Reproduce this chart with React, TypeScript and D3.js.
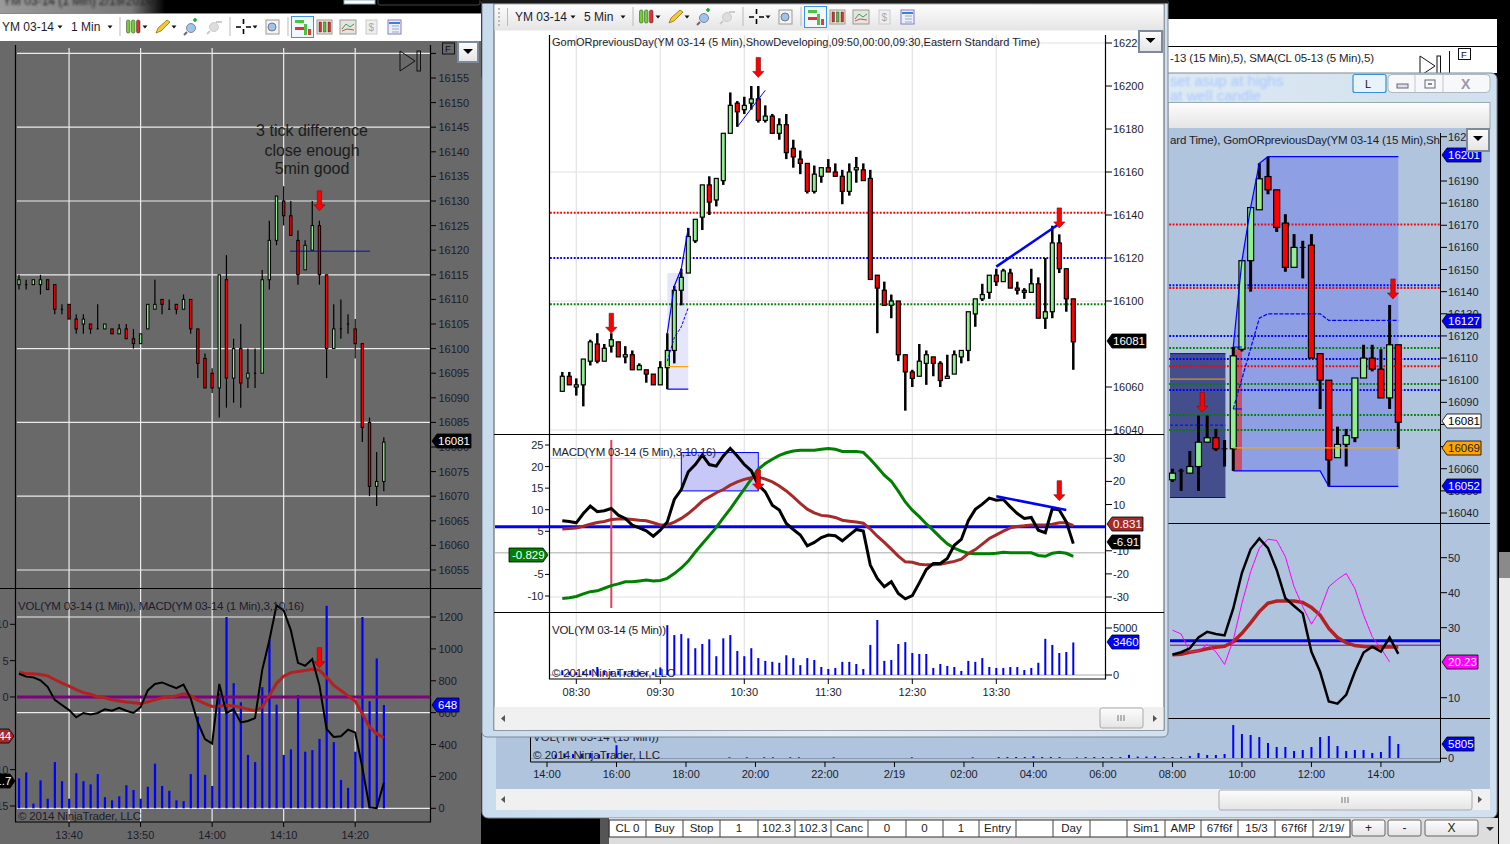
import React from 'react';
import * as d3 from 'd3';

type Bar = [number, number, number, number]; // open, high, low, close

// ---- 1 min chart (left window), 13:33 -> 14:24
const bars1m: Bar[] = [
  [16113,16115,16112,16114],[16113,16114,16112,16113],[16113,16114,16113,16114],[16113,16115,16111,16114],
  [16114,16114,16112,16112],[16113,16113,16107,16108],[16108,16109,16107,16108],[16109,16109,16106,16106],
  [16106,16107,16103,16104],[16105,16107,16103,16106],[16105,16105,16103,16104],[16104,16109,16104,16104],
  [16104,16105,16104,16105],[16104,16104,16103,16103],[16103,16105,16103,16104],[16104,16105,16102,16102],
  [16102,16104,16100,16101],[16101,16103,16101,16103],[16104,16109,16104,16109],[16108,16114,16108,16109],
  [16110,16110,16107,16109],[16108,16110,16108,16108],[16109,16109,16107,16108],[16108,16111,16108,16110],
  [16110,16110,16103,16104],[16104,16104,16094,16097],[16098,16099,16092,16092],[16095,16096,16091,16092],
  [16092,16115,16086,16115],[16114,16119,16088,16094],[16094,16102,16089,16100],[16100,16105,16088,16093],
  [16094,16100,16092,16095],[16095,16100,16092,16095],[16095,16116,16095,16114],[16114,16126,16112,16122],
  [16122,16131,16121,16131],[16130,16133,16125,16127],[16127,16130,16123,16123],[16122,16124,16113,16115],
  [16116,16122,16116,16121],[16120,16130,16120,16125],[16125,16126,16113,16115],[16115,16115,16094,16100],
  [16100,16109,16100,16104],[16104,16110,16102,16104],[16105,16107,16103,16105],[16104,16106,16098,16101],
  [16101,16101,16081,16084],[16085,16086,16070,16072],[16072,16079,16068,16073],[16073,16082,16071,16081],
];
const vol1m = [188,225,30,175,60,290,170,60,220,170,150,215,70,50,75,145,115,60,135,280,140,110,50,45,215,575,210,140,720,1200,785,665,335,290,760,1055,650,335,370,710,355,365,435,1270,415,178,128,355,1200,672,940,648];
const macd1m = [3.2,2.8,2.7,2.3,1.4,-.4,-1.1,-1.8,-2.8,-2.2,-2.4,-2.2,-1.7,-1.9,-1.5,-1.9,-2.2,-1.4,.9,1.8,2,1.6,1.2,1.7,-.2,-3.5,-5.8,-6.4,1.8,-2.2,-1.7,-3.5,-3.3,-2.9,3.7,7.8,12.6,11.9,9.2,4.7,4.3,5.2,1.6,-4.4,-5.5,-5.4,-4.5,-4.9,-9.7,-15.2,-15.3,-11.8];
const signal1m = [3.4,3.2,3.2,3.1,2.9,2.4,1.9,1.5,1,.6,.4,0,-.1,-.4,-.55,-.7,-.8,-.9,-.65,-.4,-.1,0,.15,.45,.15,-.45,-.9,-1.3,-1.25,-1.15,-1.25,-1.4,-1.7,-1.9,-1.4,.2,1.85,2.85,3.35,3.5,3.65,3.8,3.7,2.7,1.6,.9,.15,-.55,-2.3,-4.15,-5.05,-5.6];
const priceTicks1m = [16155,16150,16145,16140,16135,16130,16125,16120,16115,16110,16105,16100,16095,16090,16085,16080,16075,16070,16065,16060,16055];
const priceGrid1m = [16160,16145,16130,16115,16100,16085,16070,16055];
const volTicks1m = [0,200,400,600,800,1000,1200];
const macdTicks1m = [10,5,0,-10,-15];
const timeTicks1m: [number, string][] = [[7,'13:40'],[17,'13:50'],[27,'14:00'],[37,'14:10'],[47,'14:20']];

// ---- 5 min chart (middle window), 08:20 -> 14:25
const bars5m: Bar[] = [
  [16058,16067,16058,16065],[16065,16067,16061,16061],[16060,16064,16056,16061],[16061,16073,16051,16073],
  [16072,16082,16070,16081],[16080,16085,16071,16072],[16072,16080,16072,16078],[16079,16085,16076,16082],
  [16081,16081,16074,16074],[16074,16079,16071,16075],[16075,16077,16068,16068],[16068,16071,16068,16070],
  [16068,16068,16062,16066],[16066,16066,16061,16061],[16061,16072,16061,16069],[16069,16085,16059,16077],
  [16077,16107,16071,16105],[16105,16115,16098,16111],[16113,16134,16113,16130],[16128,16138,16127,16138],
  [16139,16154,16133,16154],[16154,16158,16140,16146],[16147,16157,16144,16157],[16156,16178,16154,16178],
  [16178,16197,16178,16191],[16192,16193,16181,16188],[16189,16195,16187,16191],[16192,16200,16189,16194],
  [16194,16200,16183,16184],[16184,16191,16183,16186],[16186,16187,16178,16178],[16178,16185,16175,16182],
  [16182,16187,16166,16169],[16171,16175,16162,16167],[16166,16170,16159,16164],[16164,16164,16150,16151],
  [16151,16163,16150,16159],[16158,16162,16155,16162],[16162,16166,16160,16160],[16160,16164,16158,16158],
  [16158,16161,16145,16151],[16151,16164,16149,16160],[16161,16167,16155,16162],[16161,16164,16156,16156],
  [16157,16161,16110,16110],[16112,16112,16085,16106],[16105,16109,16098,16098],[16098,16103,16092,16100],
  [16100,16100,16072,16075],[16075,16075,16049,16067],[16067,16068,16060,16064],[16065,16080,16065,16072],
  [16071,16077,16061,16075],[16074,16074,16065,16071],[16071,16072,16060,16063],[16064,16075,16064,16065],
  [16066,16077,16066,16075],[16074,16077,16071,16077],[16077,16095,16072,16095],[16094,16101,16088,16101],
  [16101,16108,16100,16103],[16104,16112,16101,16112],[16112,16115,16107,16109],[16109,16115,16109,16114],
  [16113,16115,16106,16106],[16106,16109,16103,16105],[16105,16106,16101,16104],[16104,16115,16104,16108],
  [16108,16111,16092,16092],[16092,16120,16087,16095],[16095,16135,16092,16127],[16127,16131,16113,16115],
  [16115,16115,16095,16101],[16101,16101,16068,16081],
];
const macd5m = [3,2.7,2.1,6.1,9.3,6.9,7.3,8.3,5.4,4,1.1,-.1,-1.4,-3.7,-1.1,2.5,12.2,16.5,24.2,27.3,31.4,27.3,26.6,31,34.3,31,27.3,24.6,18.4,15.5,9.7,7.6,1.8,-.8,-3.2,-7.9,-6.4,-4.3,-3.2,-3.5,-5.7,-3.2,-.8,-1.5,-16.2,-22,-25.6,-23.4,-28.5,-30.8,-29.4,-23.9,-18.1,-15.5,-15.5,-13.3,-7.6,-5.1,3,7.9,10.2,12.8,11.9,12.2,9,6.1,4,4.4,-1.1,-2.2,8.3,7.6,2.5,-6.91];
const signal5m = [-.6,-.4,-.2,.6,1.5,2.2,2.7,3.5,3.7,3.8,3.5,3.2,3,2.1,1.2,1.2,2.4,4,6.1,8.7,11.5,13.3,15.1,16.5,18.4,19.8,20.9,21.6,21.9,21,19.8,18,15.9,13.3,10.5,8,6.4,5.3,5,4.4,3.2,2.8,2.4,1.9,-.6,-3.7,-6.4,-9.3,-12.3,-14.8,-15,-15.8,-16.1,-16.1,-15.8,-15.2,-14.6,-13.6,-11.2,-9.5,-7.1,-4.7,-3.1,-1.5,-.1,.5,.8,1.2,1.2,1.2,1.5,2.1,2.1,.831];
const diff5m = [-10.6,-10.4,-10.1,-9.5,-9,-8.8,-8.2,-7.6,-7.2,-6.7,-6.7,-6.5,-6.3,-6.5,-6.4,-5.9,-4.8,-3.5,-1.9,.2,2.1,4,5.9,8.1,10.2,12.5,14.8,17.1,19.4,20.7,21.7,22.6,23.2,23.6,23.8,23.8,23.8,24,24.2,24,23.5,23.5,23.5,23.3,21.7,19.9,18,16.6,14.3,11.8,9.9,8.4,6.7,5.2,3.6,2.1,1.1,.4,-.1,-.2,-.2,-.2,-.1,.15,0,0,0,0,-.6,-.8,-.1,.15,-.1,-.829];
const vol5m = [500,350,300,400,500,850,500,400,450,350,500,350,250,300,800,5300,4250,4350,3900,2850,3300,3800,2000,3900,4250,2550,2000,2850,1800,1500,1400,1300,2100,1800,1050,1800,1600,850,640,750,1400,1400,1170,640,3200,5850,1500,1600,3300,3500,2340,2240,2240,750,1170,960,850,430,1500,1400,1800,850,750,750,850,850,530,750,1300,3850,3200,2340,2450,3460];
const priceTicks5m = [16220,16200,16180,16160,16140,16120,16100,16060,16040];
const priceGrid5m = [16220,16160,16100,16040];
const leftTicks5m = [25,20,15,10,5,-5,-10];
const rightTicks5m = [30,20,10,-10,-20,-30];
const hourTicks5m: [number, string][] = [[2,'08:30'],[14,'09:30'],[26,'10:30'],[38,'11:30'],[50,'12:30'],[62,'13:30']];
const orHigh5m: [number, number][] = [[15,16085],[16,16107],[17,16115],[18,16134]];
const orMid5m: [number, number][] = [[15,16072],[16,16083],[17,16088],[18,16097]];
const levels5m: [number, string][] = [[16141,'#ff0000'],[16120,'#0000ff'],[16098.5,'#008000']];
const arrows5m: [number, number][] = [[7,16085],[28,16204],[71,16134]];

// ---- 15 min chart (window behind), index counted in bars from 14:00 the day before
const firstBar15 = 72;
const bars15m: Bar[] = [
  [16055,16060,16054,16058],[16059,16060,16050,16059],[16058,16068,16058,16061],[16061,16084,16050,16072],
  [16072,16084,16072,16074],[16074,16078,16068,16069],[16069,16073,16061,16069],[16069,16115,16059,16111],
  [16114,16154,16113,16154],[16154,16178,16140,16178],[16177,16198,16177,16191],[16192,16201,16184,16186],
  [16186,16186,16167,16169],[16171,16175,16149,16151],[16151,16166,16151,16160],[16160,16163,16146,16160],
  [16161,16166,16110,16110],[16112,16112,16087,16100],[16100,16100,16052,16064],[16065,16079,16065,16071],
  [16071,16078,16061,16075],[16074,16101,16072,16101],[16101,16116,16101,16110],[16110,16116,16104,16105],
  [16105,16114,16092,16092],[16092,16134,16087,16116],[16116,16116,16069,16081],
];
const macd15m = [22.3,23,24.1,27.2,28.8,28.2,27.8,35.5,45.7,52.4,55.5,52.7,46.5,38.4,36.2,34.1,23.1,17.4,8.9,8.3,10.8,17.4,22.9,24.6,23.2,27.2,22.5];
const signal15m = [22.3,22.4,23,23.4,24,24.4,24.7,26,28.4,31.4,34.6,37,37.6,37.6,37.6,37.2,35.8,33.6,29.8,27.2,25.7,24.9,24.6,24.5,24.5,24.5,24.5];
const sma15m = [29.3,28.2,23.1,23.3,25.2,23.1,19.5,26.5,37,46,52.7,55.3,54.9,50.3,41.7,36,31,35,41.7,43.8,45.5,41.2,33.6,27.4,24.1,20.23];
const vol15m = [540,540,950,2160,1350,1350,1750,13500,9850,9450,8640,6210,4590,4590,2970,3375,4590,8640,9050,5000,2970,3375,3375,2160,2570,9050,5805];
const volEarly15m: [number, number][] = [[1,1500],[2,2000],[3,1700],[4,1800],[5,2200],[6,1600],[7,2000],[8,5300],[9,1400],[21,400],[23,400],[25,400],[26,400],[28,400],[29,400],[33,400],[42,400],[49,400],[52,500],[53,500],[54,500],[55,500],[56,800],[57,500],[58,500],[59,500],[61,400],[62,500],[63,500],[64,500],[65,500],[66,500],[67,1400],[68,700],[69,700],[70,800],[71,500]];
const levels15m: [number, string][] = [[16170.4,'#ff0000'],[16142.9,'#0000ff'],[16141.7,'#ff0000'],[16120,'#0000ff'],[16114.5,'#008000'],[16109.6,'#0000ff'],[16106.3,'#ff0000'],[16098.3,'#008000'],[16095.6,'#0000ff'],[16084.3,'#008000'],[16077.5,'#008000']];
const orTop15m: [number, number][] = [[79,16115],[80,16154],[81,16178],[82,16198],[83,16201],[98,16201]];
const orBottom15m: [number, number][] = [[79,16059],[89,16059],[90,16052],[98,16052]];
const orBandTop15m = [16115,16154,16178,16198,16201,16201,16201,16201,16201,16201,16201,16201,16201,16201,16201,16201,16201,16201,16201,16201];
const orBandLow15m = [16059,16059,16059,16059,16059,16059,16059,16059,16059,16059,16059,16052,16052,16052,16052,16052,16052,16052,16052,16052];
const orMid15m: [number, number][] = [[79,16087],[82,16128],[83,16130],[89,16130],[90,16127],[98,16127]];
const priceTicks15m = [16210,16190,16180,16170,16160,16150,16140,16130,16120,16110,16100,16090,16080,16070,16060,16050,16040];
const macdTicks15m = [50,40,30,10];
const timeTicks15m: [number, string][] = [[0,'14:00'],[8,'16:00'],[16,'18:00'],[24,'20:00'],[32,'22:00'],[40,'2/19'],[48,'02:00'],[56,'04:00'],[64,'06:00'],[72,'08:00'],[80,'10:00'],[88,'12:00'],[96,'14:00']];

// ---- order line at the bottom of the screen
const orderCells = ['CL 0','Buy','Stop','1','102.3','102.3','Canc','0','0','1','Entry','','Day','','Sim1','AMP','67f6f','15/3','67f6f','2/19/'];
const orderEdges = [609,646,683,720,758,795,831,868,906,943,979,1016,1053,1090,1127,1165,1201,1238,1275,1313,1350];

const FONT = '"Liberation Sans", Arial, sans-serif';
const UP = '#90ee90';
const DOWN = '#ff0000';

// scales
const x1 = d3.scaleLinear().domain([0, 51]).range([19, 383.8]);
const y1 = d3.scaleLinear().domain([16155, 16055]).range([78, 570]);
const v1 = d3.scaleLinear().domain([0, 1200]).range([808.3, 617]);
const m1 = d3.scaleLinear().domain([10, -15]).range([624.3, 806]);

const x5 = d3.scaleLinear().domain([0, 73]).range([562.3, 1073.3]);
const y5 = d3.scaleLinear().domain([16200, 16040]).range([86, 430]);
const mL5 = d3.scaleLinear().domain([25, -10]).range([445, 596]);
const mR5 = d3.scaleLinear().domain([30, -30]).range([458.3, 597]);
const v5 = d3.scaleLinear().domain([0, 5000]).range([675, 628]);

const x15 = d3.scaleLinear().domain([0, 98]).range([547, 1398.3]);
const y15 = d3.scaleLinear().domain([16190, 16040]).range([181, 513]);
const m15 = d3.scaleLinear().domain([50, 10]).range([557.7, 697.7]);
const v15 = d3.scaleLinear().domain([0, 5805]).range([758.3, 744]);

const seriesPath = (vals: number[], x: (i: number) => number, y: (v: number) => number) =>
  d3.line<number>().x((_, i) => x(i)).y(d => y(d))(vals) || '';
const pairPath = (pts: [number, number][], x: (i: number) => number, y: (v: number) => number) =>
  d3.line<[number, number]>().x(d => x(d[0])).y(d => y(d[1]))(pts) || '';

const T: React.FC<any> = ({ children, size = 11, fill = '#1c1c2c', ...rest }) => (
  <text fontFamily={FONT} fontSize={size} fill={fill} {...rest}>{children}</text>
);

const Candles: React.FC<{ bars: Bar[]; x: (i: number) => number; y: (v: number) => number; body: number; wick: number; sw?: number }> = ({ bars, x, y, body, wick, sw = 1 }) => (
  <g>
    {bars.map((b, i) => {
      const [o, h, l, c] = b;
      const top = y(Math.max(o, c));
      const bot = y(Math.min(o, c));
      return (
        <g key={i}>
          <line x1={x(i)} x2={x(i)} y1={y(h)} y2={y(l)} stroke="#000" strokeWidth={wick} />
          {o === c
            ? <line x1={x(i) - body / 2} x2={x(i) + body / 2} y1={top} y2={top} stroke="#000" strokeWidth={1} />
            : <rect x={x(i) - body / 2} y={top} width={body} height={bot - top} fill={c > o ? UP : DOWN} stroke="#000" strokeWidth={sw} />}
        </g>
      );
    })}
  </g>
);

const Arrow: React.FC<{ x: number; tip: number; len?: number }> = ({ x, tip, len = 20 }) => (
  <path d={`M${x - 2.2},${tip - len}h4.4v${len - 6}h3.4l-5.6,6l-5.6,-6h3.4z`} fill="#ff0000" stroke="#701010" strokeWidth={0.6} />
);

// price marker tag, points to the axis
const Tag: React.FC<{ x: number; y: number; w: number; text: string; fill: string; color?: string; flip?: boolean }> = ({ x, y, w, text, fill, color = '#fff', flip }) => {
  const h = 7;
  const d = flip
    ? `M${x},${y}l-5,${-h}h${-w + 5}v${h * 2}h${w - 5}z`
    : `M${x},${y}l5,${-h}h${w - 5}v${h * 2}h${-w + 5}z`;
  return (
    <g>
      <path d={d} fill={fill} stroke="#000" strokeWidth={0.8} />
      <T x={flip ? x - w + 3 : x + 6} y={y + 4} fill={color} size={11.5}>{text}</T>
    </g>
  );
};

const DropButton: React.FC<{ x: number; y: number; w?: number; h?: number }> = ({ x, y, w = 22, h = 21 }) => (
  <g>
    <rect x={x} y={y} width={w} height={h} fill="url(#btn)" stroke="#7d8a99" strokeWidth={2} />
    <path d={`M${x + w / 2 - 5},${y + 7}h10l-5,5z`} fill="#000" />
  </g>
);

const ReplayIcon: React.FC<{ x: number; y: number }> = ({ x, y }) => (
  <g fill="none" stroke="#111" strokeWidth={1}>
    <path d={`M${x},${y}l15,10l-15,10z`} />
    <rect x={x + 17} y={y} width={3.5} height={20} />
  </g>
);

// the NinjaTrader chart toolbar, drawn at the left window's position and shifted for the others
const Toolbar: React.FC<{ dx: number; dy: number; label: string; period: string }> = ({ dx, dy, label, period }) => {
  const caret = (x: number) => <path d={`M${x - 2.5},25.5h5l-2.5,3z`} fill="#111" />;
  const sep = (x: number) => <line x1={x} x2={x} y1={17} y2={36} stroke="#bbb" />;
  return (
    <g transform={`translate(${dx},${dy})`}>
      <T x={2} y={31} size={12}>{label}</T>{caret(60)}
      <T x={71} y={31} size={12}>{period}</T>{caret(110)}
      {sep(120)}
      {[128, 133, 138].map((x, i) => (
        <rect key={x} x={x - 1.5} y={20} width={3.5} height={13} rx={1.5} fill={i === 2 ? '#e03030' : '#70d030'} stroke="#333" strokeWidth={0.5} />
      ))}
      {caret(145)}
      <path d="M156,33l2,-5l9,-8l3,2l-9,9z" fill="#f5c830" stroke="#806010" strokeWidth={0.7} />{caret(174)}
      <circle cx={191} cy={28} r={4.5} fill="#9fc4e8" stroke="#7a8a9a" /><line x1={187} x2={184} y1={32} y2={35} stroke="#667" strokeWidth={2} />
      <path d="M197,20h-4m2,-2v4" stroke="#10b020" strokeWidth={1.6} />
      <circle cx={214} cy={27} r={4.5} fill="#ddd" stroke="#ccc" /><line x1={210} x2={207} y1={31} y2={34} stroke="#ccc" strokeWidth={2} /><line x1={216} x2={222} y1={22} y2={22} stroke="#ccc" strokeWidth={2} />
      {sep(230)}
      <path d="M236,27h5m5,0h5M243.5,19v5m0,5v5" stroke="#000" strokeWidth={1.6} fill="none" />{caret(255)}
      <rect x={266} y={20} width={13} height={14} fill="#f4f4f4" stroke="#999" /><circle cx={272} cy={27} r={4} fill="#9fc4e8" stroke="#778" />
      {sep(288)}
      <rect x={291.5} y={16.5} width={22} height={21} fill="#f0f7fe" stroke="#3b95e0" />
      <rect x={295} y={20} width={9} height={3} fill="#50c040" /><rect x={295} y={27} width={9} height={3} fill="#e03030" /><rect x={304} y={24} width={3} height={11} fill="#50c040" /><rect x={308} y={29} width={3} height={6} fill="#d04040" />
      <rect x={317} y={20} width={15} height={14} fill="#f0e8d8" stroke="#999" />
      {[320, 324.5, 329].map((x, i) => <rect key={x} x={x - 1} y={22} width={2.5} height={10} fill={i === 1 ? '#50c040' : '#e03030'} stroke="#222" strokeWidth={0.4} />)}
      <rect x={340} y={20} width={16} height={14} fill="#e8e4dc" stroke="#999" /><path d="M342,29l4,-5l4,3l4,-3" stroke="#30a060" fill="none" /><path d="M342,31l5,-2l7,1" stroke="#d05050" fill="none" />
      <rect x={366} y={20} width={11} height={14} fill="#eee" stroke="#ccc" /><T x={368.5} y={31} size={10} fill="#aaa">$</T>
      <rect x={388} y={20} width={13} height={14} fill="#eaf0fa" stroke="#8878c8" /><line x1={389} x2={400} y1={23} y2={23} stroke="#4080d0" strokeWidth={2} />
      {[26, 29, 32].map(y => <line key={y} x1={392} x2={399} y1={y} y2={y} stroke="#9ab" />)}
    </g>
  );
};

const LeftWindow = () => (
  <g>
    <defs>
      <clipPath id="clipLeft"><rect x={0} y={0} width={481} height={844} /></clipPath>
    </defs>
    <g clipPath="url(#clipLeft)">
      <rect x={0} y={0} width={165} height={13} fill="url(#topFade)" />
      <T x={3} y={5} size={12} fill="#222" filter="url(#soft)">YM 03-14 (1 Min)  2/19/2014</T>
      <rect x={344} y={0} width={31} height={4} fill="#fff" stroke="#8ab" />
      <rect x={378} y={-6} width={102} height={11} fill="none" stroke="#444" rx={2} />
      <rect x={0} y={14} width={481} height={27} fill="#fff" />
      <rect x={0} y={41} width={481} height={803} fill="#696969" />
      <line x1={0} x2={481} y1={13.5} y2={13.5} stroke="#888" />
      <Toolbar dx={0} dy={0} label="YM 03-14" period="1 Min" />

      {priceGrid1m.map(p => <line key={p} x1={17} x2={430} y1={y1(p)} y2={y1(p)} stroke="#ececec" strokeWidth={1.2} />)}
      {timeTicks1m.map(([i]) => <line key={i} x1={x1(i)} x2={x1(i)} y1={48} y2={822} stroke="#ececec" strokeWidth={1.2} />)}
      {[0, 600, 1200].map(v => <line key={v} x1={17} x2={430} y1={v1(v)} y2={v1(v)} stroke="#ececec" strokeWidth={1.2} />)}

      <line x1={15.5} x2={15.5} y1={45} y2={822} stroke="#000" strokeWidth={1.2} />
      <line x1={430.5} x2={430.5} y1={45} y2={822} stroke="#000" strokeWidth={1.2} />
      <line x1={0} x2={481} y1={588.5} y2={588.5} stroke="#000" strokeWidth={1.2} />
      <line x1={15} x2={431} y1={822} y2={822} stroke="#000" strokeWidth={1.2} />

      <Candles bars={bars1m} x={x1} y={y1} body={2.4} wick={1.2} sw={1} />
      <line x1={290} x2={370} y1={y1(16119.8)} y2={y1(16119.8)} stroke="#0000c0" strokeWidth={0.9} />
      <Arrow x={x1(42)} tip={y1(16128)} />
      <T x={312} y={136} size={16} textAnchor="middle" fill="#1c1c1c">3 tick difference</T>
      <T x={312} y={155.5} size={16} textAnchor="middle" fill="#1c1c1c">close enough</T>
      <T x={312} y={174} size={16} textAnchor="middle" fill="#1c1c1c">5min good</T>

      {vol1m.map((v, i) => <rect key={i} x={x1(i) - 1} y={v1(v)} width={2.2} height={v1(0) - v1(v)} fill="#0000ff" />)}
      <line x1={17} x2={430} y1={m1(0)} y2={m1(0)} stroke="#800080" strokeWidth={3} />
      <path d={seriesPath(signal1m, x1, m1)} fill="none" stroke="#b22222" strokeWidth={3} />
      <path d={seriesPath(macd1m, x1, m1)} fill="none" stroke="#000" strokeWidth={2} />
      <Arrow x={x1(42)} tip={667.7} />

      <T x={18} y={610} size={11.5} textLength={286}>VOL(YM 03-14 (1 Min)), MACD(YM 03-14 (1 Min),3,10,16)</T>
      <T x={18} y={820} size={11.5} textLength={123}>© 2014 NinjaTrader, LLC</T>

      {priceTicks1m.map(p => (
        <g key={p}>
          <line x1={431} x2={436} y1={y1(p)} y2={y1(p)} stroke="#000" />
          <T x={438.5} y={y1(p) + 4}>{p}</T>
        </g>
      ))}
      <line x1={431} x2={436} y1={y1(16160)} y2={y1(16160)} stroke="#000" />
      {volTicks1m.map(v => (
        <g key={v}>
          <line x1={431} x2={436} y1={v1(v)} y2={v1(v)} stroke="#000" />
          <T x={438.5} y={v1(v) + 4}>{v}</T>
        </g>
      ))}
      {macdTicks1m.map(v => (
        <g key={v}>
          <line x1={10} x2={15} y1={m1(v)} y2={m1(v)} stroke="#000" />
          <T x={8.5} y={m1(v) + 4} textAnchor="end">{Math.abs(v)}</T>
        </g>
      ))}
      {timeTicks1m.map(([i, s]) => (
        <g key={s}>
          <line x1={x1(i)} x2={x1(i)} y1={822} y2={827} stroke="#000" />
          <T x={x1(i)} y={839} textAnchor="middle">{s}</T>
        </g>
      ))}
      <Tag x={14} y={736} w={32} text="-0.44" fill="#a52a2a" flip />
      <Tag x={15} y={781} w={32} text="-11.7" fill="#000" flip />
      <Tag x={432} y={441} w={39} text="16081" fill="#000" />
      <Tag x={432} y={705} w={27} text="648" fill="#0000ff" />
      <ReplayIcon x={400} y={51} />
      <rect x={442.5} y={43} width={12} height={11} fill="none" stroke="#111" />
      <T x={445} y={52} size={9.5} fill="#111">F</T>
      <DropButton x={458} y={42} w={20} h={20} />
    </g>
  </g>
);

const BackWindow = () => {
  const bandIdx = orBandTop15m.map((_, i) => 79 + i);
  const band = d3.area<number>()
    .x(i => x15(i))
    .y0((_, i) => y15(orBandLow15m[i]))
    .y1((_, i) => y15(orBandTop15m[i]))(bandIdx) || '';
  const bx = (i: number) => x15(i + firstBar15);
  return (
    <g>
      {/* the other window still further behind */}
      <rect x={1168} y={19} width={329} height={54} fill="#fff" />
      <line x1={1168} x2={1497} y1={46.5} y2={46.5} stroke="#000" />
      <T x={1170} y={62} size={11.5} textLength={204}>-13 (15 Min),5), SMA(CL 05-13 (5 Min),5)</T>
      <ReplayIcon x={1420} y={56} />
      <line x1={1449.5} x2={1449.5} y1={51} y2={73} stroke="#111" />
      <rect x={1458.5} y={48.5} width={12} height={11} fill="#fff" stroke="#111" />
      <T x={1461} y={58} size={9.5} fill="#111">F</T>

      <rect x={482} y={73} width={1015} height={745} rx={6} fill="url(#glass)" stroke="#7c8896" />
      <T x={1170} y={86} size={15} fill="#a8c8ff" filter="url(#soft)">set asup at highs</T>
      <T x={1170} y={101} size={15} fill="#a8c8ff" filter="url(#soft)">at well candle</T>
      <rect x={1353} y={74.5} width={33} height={18} rx={2} fill="#e8f4fc" stroke="#3b8fd0" strokeWidth={1.2} />
      <T x={1365} y={88} size={11} fill="#111">L</T>
      <rect x={1388} y={74.5} width={102} height={18} rx={4} fill="#f6f8fa" stroke="#b0b8c0" />
      <line x1={1415} x2={1415} y1={75} y2={92} stroke="#c0c8d0" />
      <line x1={1443} x2={1443} y1={75} y2={92} stroke="#c0c8d0" />
      <rect x={1397} y={84} width={11} height={4} fill="#dde" stroke="#667" />
      <rect x={1425} y={80} width={10} height={8} fill="none" stroke="#667" /><rect x={1428} y={83} width={4} height={2} fill="#889" />
      <T x={1461} y={89} size={14} fontWeight="bold" fill="#99a">X</T>
      <rect x={1168} y={102.5} width={322} height={26} fill="url(#btn)" stroke="#9aa" />

      <rect x={496} y={128} width={994} height={661} fill="#b0c4de" />

      {/* chart pane */}
      <path d={band} fill="#8f9fe3" />
      <rect x={x15(79)} y={y15(16114)} width={x15(80) - x15(79)} height={y15(16059) - y15(16114)} fill="#c8516a" />
      <rect x={1170} y={y15(16112)} width={x15(78.1) - 1170} height={y15(16047) - y15(16112)} fill="#444e8c" />
      <line x1={1170} x2={x15(78.1)} y1={y15(16112)} y2={y15(16112)} stroke="#0000ff" />
      <line x1={1170} x2={x15(78.1)} y1={y15(16047)} y2={y15(16047)} stroke="#0000ff" />
      <line x1={1170} x2={x15(78.1)} y1={y15(16100.5)} y2={y15(16100.5)} stroke="#ffa500" />
      <line x1={1170} x2={x15(78.1)} y1={y15(16079.7)} y2={y15(16079.7)} stroke="#0000ff" strokeDasharray="3 2" />

      {levels15m.map(([p, c], i) => (
        <line key={i} x1={496} x2={1440} y1={y15(p)} y2={y15(p)} stroke={c} strokeWidth={2} strokeDasharray="1.8 1.6" />
      ))}
      <Candles bars={bars15m} x={bx} y={y15} body={6} wick={3} sw={1.2} />

      <line x1={x15(79)} x2={x15(98)} y1={y15(16069.4)} y2={y15(16069.4)} stroke="#ffa500" strokeWidth={1.2} />
      <path d={pairPath(orTop15m, x15, y15)} fill="none" stroke="#0000ff" strokeWidth={1.2} />
      <path d={pairPath(orBottom15m, x15, y15)} fill="none" stroke="#0000ff" strokeWidth={1.2} />
      <path d={pairPath(orMid15m, x15, y15)} fill="none" stroke="#0000ff" strokeWidth={1.2} strokeDasharray="4 1.5" />
      <path d={pairPath([[79,16087],[80,16087]], x15, y15)} stroke="#0000ff" />
      <path d={pairPath([[79,16115],[80,16115]], x15, y15)} stroke="#0000ff" />
      <Arrow x={1202.3} tip={y15(16085.5)} />
      <Arrow x={1393} tip={y15(16136.7)} />
      <T x={1170} y={144} size={11.5} textLength={270}>ard Time), GomORpreviousDay(YM 03-14 (15 Min),Sh</T>

      {/* macd pane */}
      <line x1={1170} x2={1440} y1={m15(26.3)} y2={m15(26.3)} stroke="#0000ff" strokeWidth={3} />
      <line x1={1170} x2={1440} y1={m15(25)} y2={m15(25)} stroke="#800080" strokeWidth={1} />
      <path d={seriesPath(signal15m, bx, m15)} fill="none" stroke="#b22222" strokeWidth={3.5} />
      <path d={seriesPath(sma15m, bx, m15)} fill="none" stroke="#ff00ff" strokeWidth={1} />
      <path d={seriesPath(macd15m, bx, m15)} fill="none" stroke="#000" strokeWidth={2.5} />

      {/* volume pane */}
      {volEarly15m.map(([i, v]) => <rect key={i} x={x15(i) - 1} y={v15(v)} width={2} height={v15(0) - v15(v)} fill="#0000ff" />)}
      {vol15m.map((v, i) => <rect key={i} x={bx(i) - 1} y={v15(v)} width={2} height={v15(0) - v15(v)} fill="#0000ff" />)}
      <line x1={531} x2={1440} y1={758.5} y2={758.5} stroke="#8a9ab0" />
      <T x={533} y={741} size={11.5}>VOL(YM 03-14 (15 Min))</T>
      <T x={533} y={759} size={11.5}>© 2014 NinjaTrader, LLC</T>

      <line x1={1168} x2={1490} y1={523.5} y2={523.5} stroke="#000" />
      <line x1={1168} x2={1490} y1={718.5} y2={718.5} stroke="#000" />
      <line x1={530.5} x2={1440.5} y1={762} y2={762} stroke="#000" />
      <line x1={530.5} x2={530.5} y1={735} y2={762} stroke="#000" />
      <line x1={1440.5} x2={1440.5} y1={133} y2={762} stroke="#000" />
      {priceTicks15m.map(p => (
        <g key={p}>
          <line x1={1441} x2={1447} y1={y15(p)} y2={y15(p)} stroke="#000" />
          <T x={1448} y={y15(p) + 4}>{p}</T>
        </g>
      ))}
      {macdTicks15m.map(v => (
        <g key={v}>
          <line x1={1441} x2={1447} y1={m15(v)} y2={m15(v)} stroke="#000" />
          <T x={1448} y={m15(v) + 4}>{v}</T>
        </g>
      ))}
      <line x1={1441} x2={1447} y1={v15(0)} y2={v15(0)} stroke="#000" />
      <T x={1448} y={v15(0) + 4}>0</T>
      {timeTicks15m.map(([i, s], k) => (
        <g key={k}>
          <line x1={x15(i)} x2={x15(i)} y1={762} y2={767} stroke="#000" />
          <T x={x15(i)} y={778} textAnchor="middle">{s}</T>
        </g>
      ))}
      <Tag x={1442} y={155} w={39} text="16201" fill="#0000ff" />
      <Tag x={1442} y={321} w={39} text="16127" fill="#0000ff" />
      <Tag x={1442} y={421} w={39} text="16081" fill="#fff" color="#000" />
      <Tag x={1442} y={448} w={39} text="16069" fill="#ffa500" color="#222" />
      <Tag x={1442} y={486} w={39} text="16052" fill="#0000ff" />
      <Tag x={1442} y={662} w={36} text="20.23" fill="#ff00ff" />
      <Tag x={1442} y={744} w={32} text="5805" fill="#0000ff" />
      <DropButton x={1467} y={129} w={22} h={22} />

      {/* scrollbar */}
      <rect x={496} y={789} width={994} height={21} fill="#f0f0f0" />
      <path d="M501,799.5l4,-3.5v7z" fill="#555" />
      <rect x={1219} y={790} width={253} height={20} rx={2} fill="url(#btn)" stroke="#aaa" />
      {[0, 3, 6].map(d => <line key={d} x1={1342 + d} x2={1342 + d} y1={797} y2={803} stroke="#777" />)}
      <path d="M1478,796l4,3.5l-4,3.5z" fill="#555" />
    </g>
  );
};

const MiddleWindow = () => (
  <g>
    <rect x={482} y={-2} width={686} height={739} rx={5} fill="url(#glass)" stroke="#7c8896" />
    <rect x={482} y={0} width={686} height={3.5} fill="#1a1a1a" />
    <rect x={494} y={4} width={670} height={726} fill="#fff" stroke="#555" strokeWidth={1} />
    <rect x={494.5} y={4.5} width={669} height={26} fill="url(#btn)" />
    <Toolbar dx={513} dy={-10} label="YM 03-14" period="5 Min" />
    <path d="M499,8v18" stroke="#bbb" strokeWidth={2} strokeDasharray="2 2" />
    <line x1={507.5} x2={507.5} y1={8} y2={26} stroke="#bbb" />

    {priceGrid5m.map(p => <line key={p} x1={550} x2={1105} y1={y5(p)} y2={y5(p)} stroke="#e2e2e2" strokeWidth={1.2} />)}
    {hourTicks5m.map(([i]) => <line key={i} x1={x5(i)} x2={x5(i)} y1={35} y2={679} stroke="#e2e2e2" strokeWidth={1.2} />)}
    <line x1={550} x2={1105} y1={mR5(30)} y2={mR5(30)} stroke="#e2e2e2" strokeWidth={1.2} />
    <line x1={550} x2={1105} y1={mR5(-30)} y2={mR5(-30)} stroke="#e2e2e2" strokeWidth={1.2} />
    <line x1={495} x2={1105} y1={mL5(0)} y2={mL5(0)} stroke="#aaa" strokeWidth={1} />
    <line x1={550} x2={1105} y1={v5(0)} y2={v5(0)} stroke="#aaa" strokeWidth={1} />

    {/* opening range */}
    <rect x={x5(15)} y={y5(16113)} width={x5(18) - x5(15)} height={y5(16059) - y5(16113)} fill="#e6e6fa" />
    {levels5m.map(([p, c]) => (
      <line key={p} x1={550} x2={1105} y1={y5(p)} y2={y5(p)} stroke={c} strokeWidth={2} strokeDasharray="1.8 1.6" />
    ))}
    <Candles bars={bars5m} x={x5} y={y5} body={4} wick={2.5} sw={1.2} />
    <line x1={x5(15)} x2={x5(18)} y1={y5(16059)} y2={y5(16059)} stroke="#0000ff" strokeWidth={1.2} />
    <line x1={x5(15)} x2={x5(18)} y1={y5(16069.5)} y2={y5(16069.5)} stroke="#ffa500" strokeWidth={1.2} />
    <path d={pairPath(orHigh5m, x5, y5)} fill="none" stroke="#0000ff" strokeWidth={1.2} />
    <path d={pairPath(orMid5m, x5, y5)} fill="none" stroke="#0000ff" strokeWidth={1} strokeDasharray="3 1.5" />
    <path d={pairPath([[25,16181],[29,16198]], x5, y5)} fill="none" stroke="#0000ff" strokeWidth={1} />
    <path d={pairPath([[62,16116],[70.8,16135.5]], x5, y5)} fill="none" stroke="#0000ff" strokeWidth={2.5} />
    {arrows5m.map(([i, p]) => <Arrow key={i} x={x5(i)} tip={y5(p)} />)}
    <T x={552} y={46} size={11} textLength={488}>GomORpreviousDay(YM 03-14 (5 Min),ShowDeveloping,09:50,00:00,09:30,Eastern Standard Time)</T>

    {/* macd pane */}
    <rect x={x5(17)} y={mR5(32.5)} width={x5(28) - x5(17)} height={mR5(15.9) - mR5(32.5)} fill="#c8c8f8" stroke="#0000ff" strokeWidth={1} />
    <line x1={495} x2={1105.5} y1={mR5(0.35)} y2={mR5(0.35)} stroke="#0000ff" strokeWidth={3} />
    <line x1={x5(7)} x2={x5(7)} y1={440} y2={608} stroke="#e0405f" strokeWidth={2} />
    <path d={seriesPath(diff5m, x5, mL5)} fill="none" stroke="#008000" strokeWidth={3} />
    <path d={seriesPath(signal5m, x5, mR5)} fill="none" stroke="#a52a2a" strokeWidth={3} />
    <path d={seriesPath(macd5m, x5, mR5)} fill="none" stroke="#000" strokeWidth={3} />
    <path d={pairPath([[62,13.6],[72,7.6]], x5, mR5)} fill="none" stroke="#0000ff" strokeWidth={2.5} />
    <Arrow x={x5(28)} tip={490} />
    <Arrow x={x5(71)} tip={500.7} />
    <T x={552} y={456} size={11.5} textLength={164}>MACD(YM 03-14 (5 Min),3,10,16)</T>

    {/* volume pane */}
    {vol5m.map((v, i) => <rect key={i} x={x5(i) - 1} y={v5(v)} width={2} height={v5(0) - v5(v)} fill="#0000ff" />)}
    <T x={552} y={634} size={11.5} textLength={114}>VOL(YM 03-14 (5 Min))</T>
    <T x={552} y={677} size={11.5} textLength={123}>© 2014 NinjaTrader, LLC</T>

    {/* axes */}
    <line x1={549.5} x2={549.5} y1={35} y2={679} stroke="#000" strokeWidth={1.2} />
    <line x1={1105.5} x2={1105.5} y1={35} y2={679} stroke="#000" strokeWidth={1.2} />
    <line x1={494} x2={1164} y1={434.5} y2={434.5} stroke="#000" />
    <line x1={494} x2={1164} y1={612.5} y2={612.5} stroke="#000" />
    <line x1={549} x2={1106} y1={679} y2={679} stroke="#000" />
    {priceTicks5m.map(p => (
      <g key={p}>
        <line x1={1106} x2={1112} y1={y5(p)} y2={y5(p)} stroke="#000" />
        <T x={1113} y={y5(p) + 4}>{p}</T>
      </g>
    ))}
    {rightTicks5m.map(v => (
      <g key={v}>
        <line x1={1106} x2={1112} y1={mR5(v)} y2={mR5(v)} stroke="#000" />
        <T x={1113} y={mR5(v) + 4}>{v}</T>
      </g>
    ))}
    {[0, 5000].map(v => (
      <g key={v}>
        <line x1={1106} x2={1112} y1={v5(v)} y2={v5(v)} stroke="#000" />
        <T x={1113} y={v5(v) + 4}>{v}</T>
      </g>
    ))}
    {leftTicks5m.map(v => (
      <g key={v}>
        <line x1={545} x2={549} y1={mL5(v)} y2={mL5(v)} stroke="#000" />
        <T x={543.5} y={mL5(v) + 4} textAnchor="end">{v}</T>
      </g>
    ))}
    {hourTicks5m.map(([i, s]) => (
      <g key={s}>
        <line x1={x5(i)} x2={x5(i)} y1={679} y2={684} stroke="#000" />
        <T x={x5(i)} y={696} textAnchor="middle">{s}</T>
      </g>
    ))}
    <Tag x={1107} y={341} w={39} text="16081" fill="#000" />
    <Tag x={1107} y={524} w={36} text="0.831" fill="#a52a2a" />
    <Tag x={1107} y={542} w={33} text="-6.91" fill="#000" />
    <Tag x={1107} y={642} w={32} text="3460" fill="#0000ff" />
    <Tag x={548} y={555} w={39} text="-0.829" fill="#008000" flip />
    <DropButton x={1139} y={31} w={23} h={21} />

    {/* scrollbar */}
    <rect x={494.5} y={707} width={669} height={23} fill="#f0f0f0" />
    <path d="M501,718.5l4,-3.5v7z" fill="#555" />
    <rect x={1100} y={708} width={43} height={20} rx={2} fill="url(#btn)" stroke="#aaa" />
    {[0, 3, 6].map(d => <line key={d} x1={1118 + d} x2={1118 + d} y1={715} y2={721} stroke="#777" />)}
    <path d="M1153,715l4,3.5l-4,3.5z" fill="#555" />
  </g>
);

const OrderLine = () => {
  const btns: [number, number, string][] = [[1352, 33, '+'], [1388, 33, '-'], [1425, 53, 'X']];
  return (
    <g>
      <rect x={600} y={818} width={898} height={26} fill="#ddd" />
      <rect x={600} y={818} width={9} height={26} fill="#555" />
      <rect x={609} y={820} width={741} height={17} fill="#fff" stroke="#333" />
      {orderCells.map((c, i) => (
        <g key={i}>
          <line x1={orderEdges[i]} x2={orderEdges[i]} y1={820} y2={837} stroke="#444" />
          <T x={(orderEdges[i] + orderEdges[i + 1]) / 2} y={832} textAnchor="middle" size={11.5} fill="#222">{c}</T>
        </g>
      ))}
      {btns.map(([x, w, s]) => (
        <g key={s}>
          <rect x={x} y={820} width={w} height={16} rx={2} fill="url(#btn)" stroke="#666" />
          <T x={x + w / 2} y={832} textAnchor="middle" size={12} fill="#222">{s}</T>
        </g>
      ))}
      <path d="M1486,827h8l-4,4z" fill="#333" />
    </g>
  );
};

export default function App() {
  return (
    <svg width={1510} height={844} viewBox="0 0 1510 844" style={{ position: 'fixed', left: 0, top: 0, display: 'block', background: '#000' }}>
      <defs>
        <linearGradient id="btn" x1="0" y1="0" x2="0" y2="1">
          <stop offset="0" stopColor="#fdfdfd" />
          <stop offset="1" stopColor="#e4e4e4" />
        </linearGradient>
        <linearGradient id="glass" x1="0" y1="0" x2="1" y2="0">
          <stop offset="0" stopColor="#c8dcee" />
          <stop offset="0.5" stopColor="#e4eef6" />
          <stop offset="1" stopColor="#d0e0ee" />
        </linearGradient>
        <linearGradient id="topFade" x1="0" y1="0" x2="1" y2="0">
          <stop offset="0" stopColor="#9a9a9a" />
          <stop offset="0.8" stopColor="#777" />
          <stop offset="1" stopColor="#000" />
        </linearGradient>
        <filter id="soft"><feGaussianBlur stdDeviation="1" /></filter>
      </defs>
      <rect x={0} y={0} width={1510} height={844} fill="#000" />
      <LeftWindow />
      <rect x={1499} y={552} width={11} height={26} fill="#8a8a8a" />
      <rect x={1499} y={578} width={11} height={266} fill="#eaeaea" />
      <BackWindow />
      <MiddleWindow />
      <OrderLine />
    </svg>
  );
}
